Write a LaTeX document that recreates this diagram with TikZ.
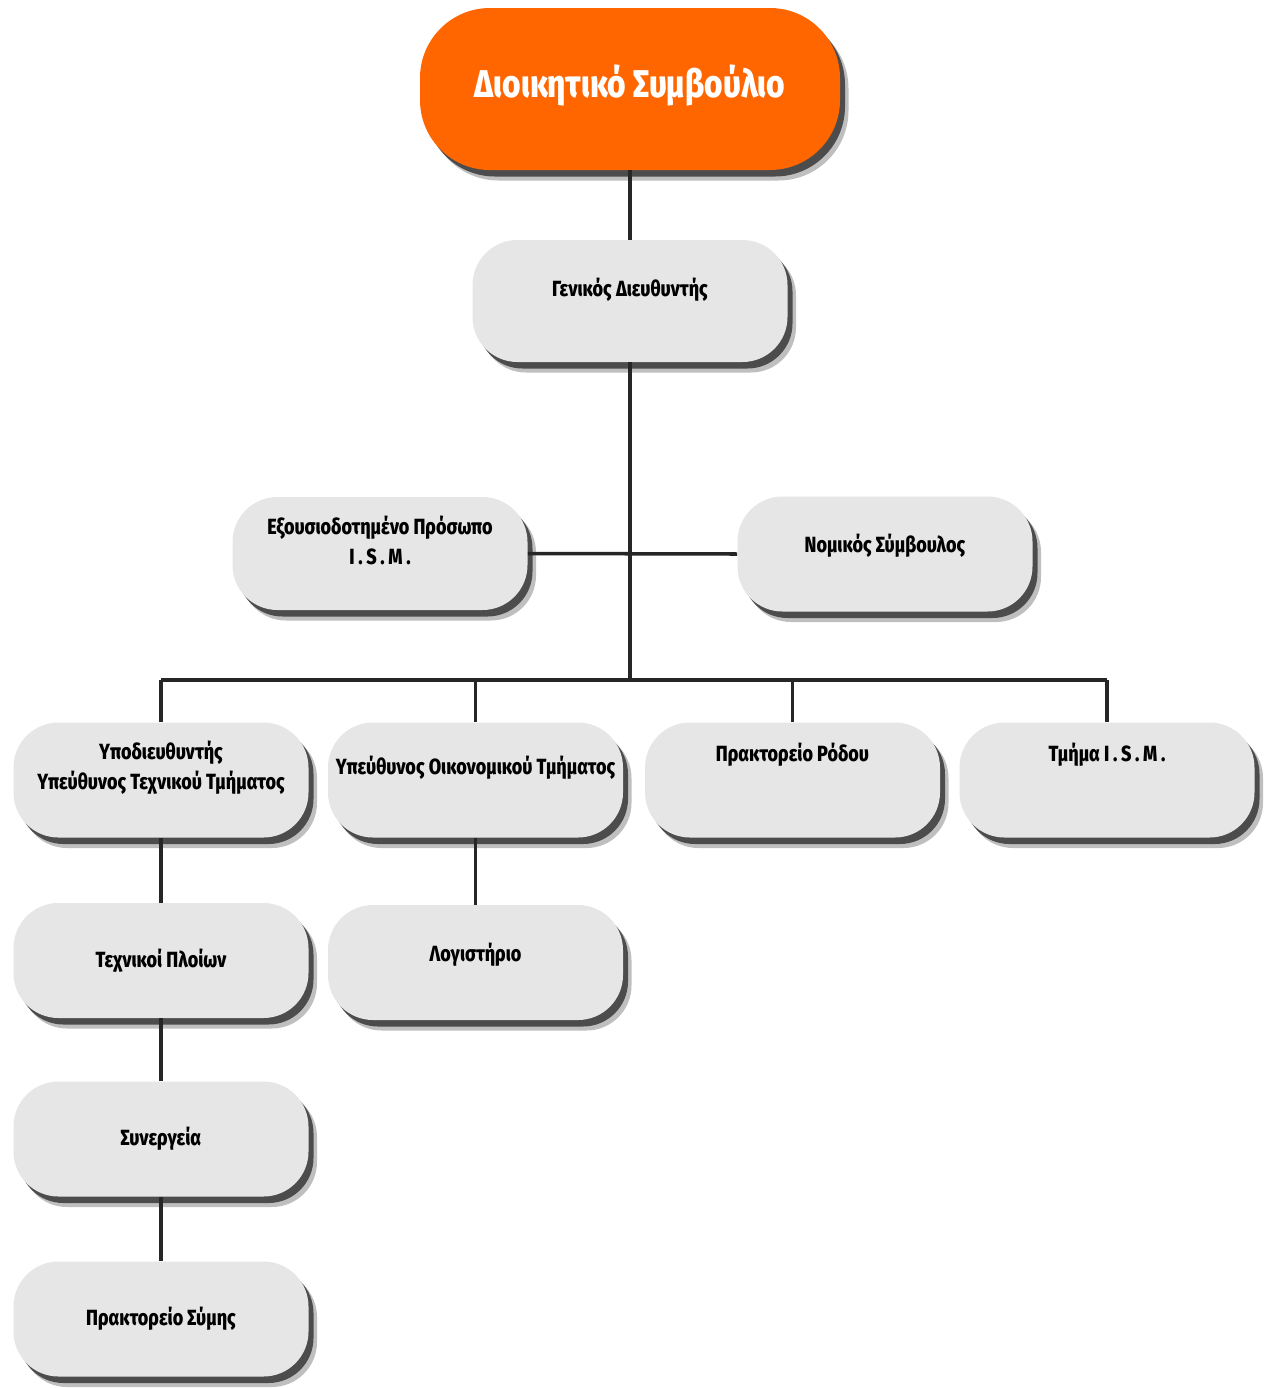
\documentclass[tikz,border=0pt]{standalone}
\usepackage{fontspec}
\setmainfont{Fira Sans}[FakeStretch=0.82, BoldFont={Fira Sans ExtraBold}]
\usetikzlibrary{shadows}
\definecolor{boardorange}{HTML}{FF6600}
\definecolor{boxgray}{HTML}{E6E6E6}
\begin{document}
\begin{tikzpicture}[
  unit/.style={rectangle, rounded corners=0.9cm, fill=boxgray, minimum width=5.9cm, minimum height=2.3cm,
    font=\bfseries\fontsize{12.5}{17}\selectfont, align=center,
    drop shadow={shadow xshift=0.17cm, shadow yshift=-0.21cm, opacity=0.25, fill=black},
    drop shadow={shadow xshift=0.1cm, shadow yshift=-0.13cm, opacity=0.6, fill=black}},
  board/.style={unit, fill=boardorange, text=white, rounded corners=1.4cm, minimum width=8.4cm, minimum height=3.24cm,
    font=\bfseries\fontsize{22}{26}\selectfont},
  lift/.style={text depth=#1},
  link/.style={line width=2pt, black!85}
]
\useasboundingbox (0,0) rectangle (25.32,-27.76);

% Board and general manager
\node[board, lift=0.3cm] (council) at (12.6,-1.78) {Διοικητικό Συμβούλιο};
\node[unit, minimum width=6.3cm, minimum height=2.44cm, lift=0.56cm] (gm) at (12.6,-6.02) {Γενικός Διευθυντής};

% Staff positions
\node[unit, minimum height=2.26cm, lift=0.52cm] (auth) at (7.6,-11.07) {Εξουσιοδοτημένο Πρόσωπο\\I\,.\,S\,.\,M\,.};
\node[unit, lift=0.44cm] (legal) at (17.7,-11.08) {Νομικός Σύμβουλος};

% Departments
\node[unit, lift=0.58cm] (deputy) at (3.22,-15.6) {Υποδιευθυντής\\Υπεύθυνος Τεχνικού Τμήματος};
\node[unit, lift=0.6cm] (finance) at (9.51,-15.6) {Υπεύθυνος Οικονομικού Τμήματος};
\node[unit, lift=1.12cm] (rhodes) at (15.85,-15.6) {Πρακτορείο Ρόδου};
\node[unit, lift=1.12cm] (ism) at (22.14,-15.6) {Τμήμα I\,.\,S\,.\,M\,.};

% Lower units
\node[unit] (tech) at (3.22,-19.21) {Τεχνικοί Πλοίων};
\node[unit, lift=0.4cm] (acct) at (9.51,-19.25) {Λογιστήριο};
\node[unit] (works) at (3.22,-22.78) {Συνεργεία};
\node[unit] (symi) at (3.22,-26.38) {Πρακτορείο Σύμης};

% Connectors
\coordinate (bus) at (12.6,-13.6);
\draw[link] (council) -- (gm);
\draw[link] (gm) -- (bus);
\draw[link] (auth.east) -- (legal.west);
\draw[link] (deputy.north |- bus) -- (ism.north |- bus);
\draw[link] (deputy.north) -- (deputy.north |- bus);
\draw[link] (finance.north) -- (finance.north |- bus);
\draw[link] (rhodes.north) -- (rhodes.north |- bus);
\draw[link] (ism.north) -- (ism.north |- bus);
\draw[link] (deputy) -- (tech);
\draw[link] (tech) -- (works);
\draw[link] (works) -- (symi);
\draw[link] (finance) -- (acct);

\end{tikzpicture}
\end{document}
